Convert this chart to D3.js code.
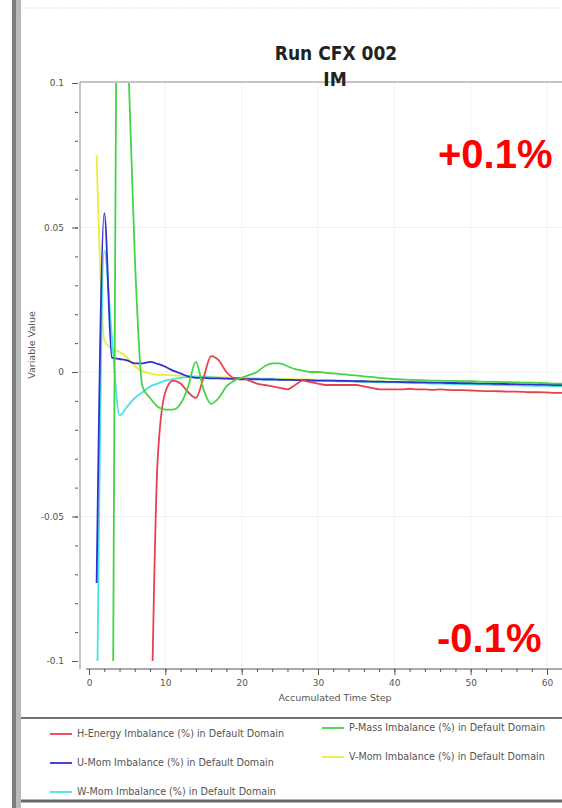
<!DOCTYPE html>
<html>
<head>
<meta charset="utf-8">
<script src="https://cdn.jsdelivr.net/npm/d3@7"></script>
<style>
  body { margin: 0; background: #fff; }
  svg { display: block; font-family: "DejaVu Sans", Verdana, sans-serif; }
</style>
</head>
<body>
<div id="chart"></div>
<script>
// accumulated time steps
const steps = [1, 2, 3, 4, 5, 6, 7, 8, 9, 10, 11, 12, 13, 14, 15, 16, 17, 18, 19, 20,
  21, 22, 23, 24, 25, 26, 27, 28, 29, 30, 31, 32, 33, 34, 35, 36, 37, 38, 39, 40,
  41, 42, 43, 44, 45, 46, 47, 48, 49, 50, 51, 52, 53, 54, 55, 56, 57, 58, 59, 60, 61, 62];

// imbalance values, null = not shown
const hEnergy = [null, null, null, null, null, null, null, -0.15, -0.03, -0.007,
  -0.003, -0.004, -0.007, -0.009, -0.002, 0.0055, 0.004, 0.0, -0.002, -0.002,
  -0.003, -0.004, -0.0045, -0.005, -0.0055, -0.006, -0.0045, -0.003, -0.0035, -0.004,
  -0.0045, -0.0045, -0.0045, -0.0045, -0.0045, -0.005, -0.0055, -0.006, -0.006, -0.006,
  -0.006, -0.0058, -0.006, -0.006, -0.0062, -0.006, -0.0062, -0.0063, -0.0063, -0.0064,
  -0.0065, -0.0066, -0.0066, -0.0067, -0.0068, -0.0068, -0.0069, -0.007, -0.007, -0.0071, -0.0072, -0.0072];

const pMass = [null, null, -0.2, 0.2, 0.12, 0.04, -0.005, -0.009, -0.012, -0.013,
  -0.013, -0.011, -0.005, 0.0035, -0.006, -0.011, -0.009, -0.005, -0.003, -0.002,
  -0.001, 0.0, 0.002, 0.003, 0.003, 0.002, 0.001, 0.0005, 0.0, 0.0,
  -0.0003, -0.0005, -0.0007, -0.001, -0.0012, -0.0015, -0.0017, -0.002, -0.0022, -0.0025,
  -0.0026, -0.0027, -0.0028, -0.0029, -0.003, -0.003, -0.0031, -0.0031, -0.0032, -0.0032,
  -0.0033, -0.0034, -0.0034, -0.0035, -0.0035, -0.0036, -0.0037, -0.0037, -0.0038, -0.0039, -0.004, -0.004];

const uMom = [-0.073, 0.055, 0.005, 0.0045, 0.004, 0.003, 0.003, 0.0035, 0.0028, 0.0018,
  0.0005, -0.0005, -0.0015, -0.002, -0.002, -0.0022, -0.0022, -0.0023, -0.0024, -0.0025,
  -0.0025, -0.0025, -0.0026, -0.0026, -0.0027, -0.0027, -0.0028, -0.0028, -0.0029, -0.003,
  -0.003, -0.003, -0.0031, -0.0031, -0.0032, -0.0032, -0.0033, -0.0033, -0.0034, -0.0034,
  -0.0035, -0.0035, -0.0036, -0.0036, -0.0037, -0.0037, -0.0038, -0.0038, -0.0039, -0.0039,
  -0.004, -0.004, -0.0041, -0.0041, -0.0042, -0.0042, -0.0043, -0.0043, -0.0044, -0.0044, -0.0045, -0.0045];

const vMom = [0.075, 0.011, 0.008, 0.007, 0.005, 0.002, 0.0003, -0.0005, -0.001, -0.001,
  -0.0012, -0.0013, -0.0014, -0.0015, -0.0016, -0.0017, -0.0018, -0.0019, -0.002, -0.002,
  -0.0021, -0.0022, -0.0022, -0.0023, -0.0024, -0.0024, -0.0025, -0.0026, -0.0026, -0.0027,
  -0.0028, -0.0028, -0.0029, -0.003, -0.003, -0.0031, -0.0032, -0.0032, -0.0033, -0.0034,
  -0.0034, -0.0035, -0.0036, -0.0036, -0.0037, -0.0038, -0.0038, -0.0039, -0.004, -0.004,
  -0.0041, -0.0042, -0.0042, -0.0043, -0.0044, -0.0044, -0.0045, -0.0046, -0.0046, -0.0047, -0.0048, -0.0048];

const wMom = [-0.13, 0.042, 0.012, -0.015, -0.012, -0.009, -0.007, -0.005, -0.004, -0.003,
  -0.0025, -0.002, -0.0018, -0.0016, -0.0016, -0.0018, -0.002, -0.002, -0.0022, -0.0022,
  -0.0023, -0.0024, -0.0025, -0.0025, -0.0026, -0.0027, -0.0028, -0.0028, -0.0029, -0.003,
  -0.003, -0.0031, -0.0032, -0.0032, -0.0033, -0.0034, -0.0034, -0.0035, -0.0036, -0.0036,
  -0.0037, -0.0038, -0.0038, -0.0039, -0.004, -0.004, -0.0041, -0.0042, -0.0042, -0.0043,
  -0.0044, -0.0044, -0.0045, -0.0045, -0.0046, -0.0046, -0.0047, -0.0047, -0.0048, -0.0048, -0.0049, -0.0049];

const seriesNames = [
  "H-Energy Imbalance (%) in Default Domain",
  "P-Mass Imbalance (%) in Default Domain",
  "U-Mom Imbalance (%) in Default Domain",
  "V-Mom Imbalance (%) in Default Domain",
  "W-Mom Imbalance (%) in Default Domain"
];
const seriesValues = [hEnergy, pMass, uMom, vMom, wMom];
const seriesColors = ["#e8414e", "#44d444", "#3030d0", "#ecec3c", "#48e4e4"];

const xTicks = [0, 10, 20, 30, 40, 50, 60];
const yTicks = [-0.1, -0.05, 0, 0.05, 0.1];
const yTickLabels = ["-0.1", "-0.05", "0", "0.05", "0.1"];

const W = 562, H = 808;
const plot = {left: 80, right: 562, top: 82, bottom: 669};

const svg = d3.select("#chart").append("svg")
  .attr("width", W)
  .attr("height", H);

// window frame on the left + faint dotted top edge
svg.append("rect").attr("x", 12).attr("y", 0).attr("width", 4).attr("height", H).attr("fill", "#7d7d7d");
svg.append("rect").attr("x", 16).attr("y", 0).attr("width", 5).attr("height", H).attr("fill", "#b9b9b9");
svg.append("line")
  .attr("x1", 22).attr("x2", W).attr("y1", 8).attr("y2", 8)
  .attr("stroke", "#cfcfcf").attr("stroke-dasharray", "1,2");

// scales
const x = d3.scaleLinear().domain([0, 60]).range([89, 547]);
const y = d3.scaleLinear().domain([-0.1, 0.1]).range([661, 83]);

// faint grid
svg.append("g")
  .selectAll("line")
  .data(yTicks.slice(1, -1))
  .join("line")
  .attr("x1", plot.left).attr("x2", plot.right)
  .attr("y1", d => y(d)).attr("y2", d => y(d))
  .attr("stroke", "#f1f1f1");
svg.append("g")
  .selectAll("line")
  .data(xTicks.slice(1))
  .join("line")
  .attr("x1", d => x(d)).attr("x2", d => x(d))
  .attr("y1", plot.top).attr("y2", plot.bottom)
  .attr("stroke", "#f3f3f3");

// plot frame (top + left)
svg.append("path")
  .attr("d", `M${plot.right},${plot.top}H${plot.left}V${plot.bottom}`)
  .attr("fill", "none").attr("stroke", "#8a8a8a");

// x axis
const xAxis = svg.append("g")
  .attr("transform", `translate(0,${plot.bottom})`);
xAxis.append("line")
  .attr("x1", plot.left + 6).attr("x2", plot.right)
  .attr("stroke", "#555");
xAxis.call(d3.axisBottom(x).tickValues(d3.range(0, 62, 2)).tickSize(3).tickFormat(""))
  .call(g => g.select(".domain").remove());
xAxis.append("g")
  .call(d3.axisBottom(x).tickValues(xTicks).tickSize(6).tickPadding(5))
  .call(g => g.select(".domain").remove());
xAxis.selectAll("line").attr("stroke", "#555");
xAxis.selectAll("text").attr("fill", "#555").attr("font-size", 9).attr("font-family", "DejaVu Sans");

// y axis
const yAxis = svg.append("g")
  .attr("transform", `translate(${plot.left - 2},0)`);
yAxis.call(d3.axisLeft(y).tickValues(d3.range(-10, 11).map(d => d / 100)).tickSize(3).tickFormat(""))
  .call(g => g.select(".domain").remove());
yAxis.append("g")
  .call(d3.axisLeft(y).tickValues(yTicks).tickSize(6).tickPadding(8)
    .tickFormat((d, i) => yTickLabels[i]))
  .call(g => g.select(".domain").remove());
yAxis.selectAll("line").attr("stroke", "#555");
yAxis.selectAll("text").attr("fill", "#555").attr("font-size", 9).attr("font-family", "DejaVu Sans");

// axis titles
svg.append("text")
  .attr("x", 335).attr("y", 701)
  .attr("text-anchor", "middle")
  .attr("font-size", 9.5).attr("fill", "#555")
  .text("Accumulated Time Step");
svg.append("text")
  .attr("transform", "translate(35,345) rotate(-90)")
  .attr("text-anchor", "middle")
  .attr("font-size", 9.5).attr("fill", "#555")
  .text("Variable Value");

// chart title
svg.append("text")
  .attr("x", 336).attr("y", 60)
  .attr("text-anchor", "middle")
  .attr("font-family", "'DejaVu Sans Condensed', 'DejaVu Sans'")
  .attr("font-weight", "bold").attr("font-size", 19).attr("fill", "#222")
  .text("Run CFX 002");
svg.append("text")
  .attr("x", 335).attr("y", 86)
  .attr("text-anchor", "middle")
  .attr("font-family", "'DejaVu Sans Condensed', 'DejaVu Sans'")
  .attr("font-weight", "bold").attr("font-size", 19).attr("fill", "#222")
  .text("IM");

// lines, clipped to the y range
svg.append("clipPath").attr("id", "clip")
  .append("rect")
  .attr("x", plot.left + 1).attr("y", y(0.1))
  .attr("width", plot.right - plot.left).attr("height", y(-0.1) - y(0.1));

const line = d3.line()
  .defined(d => d[1] !== null)
  .x(d => x(d[0]))
  .y(d => y(d[1]))
  .curve(d3.curveMonotoneX);

const drawOrder = [3, 4, 2, 0, 1];
svg.append("g")
  .attr("clip-path", "url(#clip)")
  .selectAll("path")
  .data(drawOrder)
  .join("path")
  .attr("d", i => line(steps.map((s, j) => [s, seriesValues[i][j]])))
  .attr("fill", "none")
  .attr("stroke", i => seriesColors[i])
  .attr("stroke-width", 1.8)
  .attr("stroke-linejoin", "round");

// legend
svg.append("line")
  .attr("x1", 21).attr("x2", W).attr("y1", 718).attr("y2", 718)
  .attr("stroke", "#444").attr("stroke-width", 1.5);
svg.append("line")
  .attr("x1", 21).attr("x2", W).attr("y1", 801).attr("y2", 801)
  .attr("stroke", "#666").attr("stroke-width", 3);

const legend = svg.append("g")
  .selectAll("g")
  .data(seriesNames)
  .join("g")
  .attr("transform", (d, i) => {
    const col = i % 2, row = Math.floor(i / 2);
    return `translate(${col ? 322 : 50},${734 + row * 29 - col * 6})`;
  });
legend.append("line")
  .attr("x1", 0).attr("x2", 22)
  .attr("stroke", (d, i) => seriesColors[i])
  .attr("stroke-width", 1.8);
legend.append("text")
  .attr("x", 27).attr("dy", "0.35em")
  .attr("font-size", 9.6).attr("fill", "#555")
  .text(d => d);

// red annotations
svg.append("text")
  .attr("x", 438).attr("y", 168)
  .attr("font-family", "'Liberation Sans', Arial, sans-serif")
  .attr("font-weight", "bold").attr("font-size", 40).attr("fill", "#ff0000")
  .text("+0.1%");
svg.append("text")
  .attr("x", 437).attr("y", 652)
  .attr("font-family", "'Liberation Sans', Arial, sans-serif")
  .attr("font-weight", "bold").attr("font-size", 40).attr("fill", "#ff0000")
  .text("-0.1%");
</script>
</body>
</html>
